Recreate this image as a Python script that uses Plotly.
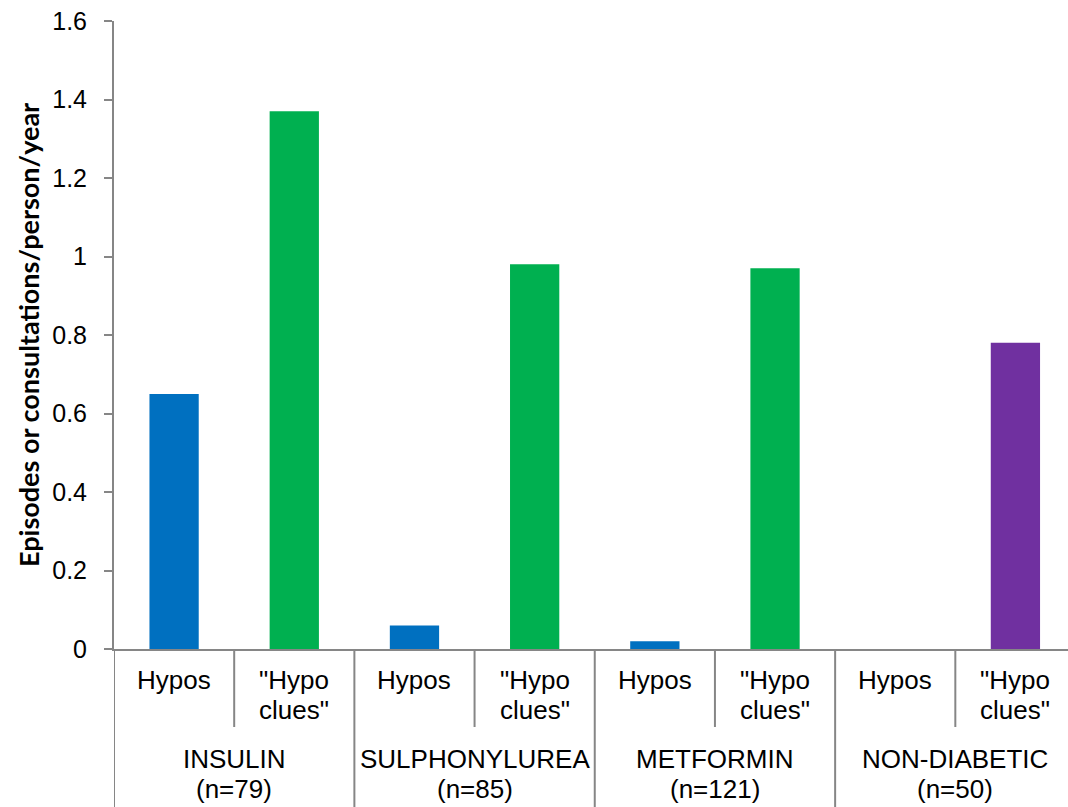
import plotly.graph_objects as go

# Data
group_names = ["INSULIN", "SULPHONYLUREA", "METFORMIN", "NON-DIABETIC"]
group_n = ["(n=79)", "(n=85)", "(n=121)", "(n=50)"]
subcat_lines = [["Hypos"], ["\"Hypo", "clues\""]]
hypos = [0.65, 0.06, 0.02, 0.0]
clues = [1.37, 0.98, 0.97, 0.78]
clue_colors = ["#00B050", "#00B050", "#00B050", "#7030A0"]
hypo_color = "#0070C0"
y_ticks = [0, 0.2, 0.4, 0.6, 0.8, 1, 1.2, 1.4, 1.6]
y_title = "Episodes or consultations/person/year"

W, H = 1068, 807
ml, mr, mt, mb = 114, 0, 21, 158
plot_h = H - mt - mb
axis_col = "#868686"

xs, ys, cols = [], [], []
for g in range(len(group_names)):
    xs += [2 * g, 2 * g + 1]
    ys += [hypos[g], clues[g]]
    cols += [hypo_color, clue_colors[g]]

fig = go.Figure(go.Bar(x=xs, y=ys, marker=dict(color=cols, line=dict(width=0)), width=0.41))

def py(pixel_y):
    return (H - mb - pixel_y) / plot_h

shapes = []
annotations = []
for g in range(len(group_names)):
    shapes.append(dict(type="line", xref="x", yref="paper", x0=2 * g + 0.5, x1=2 * g + 0.5,
                       y0=0, y1=py(727), line=dict(color=axis_col, width=2)))
for k in range(len(group_names) + 1):
    shapes.append(dict(type="line", xref="x", yref="paper", x0=2 * k - 0.5, x1=2 * k - 0.5,
                       y0=0, y1=py(H + 2), line=dict(color=axis_col, width=2)))

font_lbl = dict(family="Liberation Sans, Arial", size=26, color="#000000")
sub_line_y = [680, 710]
grp_line_y = [759, 789]
for g in range(len(group_names)):
    for s in range(2):
        for li, txt in enumerate(subcat_lines[s]):
            annotations.append(dict(xref="x", yref="paper", x=2 * g + s, y=py(sub_line_y[li]),
                                    yanchor="middle", text=txt, showarrow=False, font=font_lbl))
    for li, txt in enumerate([group_names[g], group_n[g]]):
        annotations.append(dict(xref="x", yref="paper", x=2 * g + 0.5, y=py(grp_line_y[li]),
                                yanchor="middle", text=txt, showarrow=False, font=font_lbl))

annotations.append(dict(xref="paper", yref="paper", x=(28 - ml) / (W - ml - mr), y=py(335),
                        text="<b>" + y_title + "</b>", textangle=-90, showarrow=False,
                        xanchor="center", yanchor="middle",
                        font=dict(family="Lato", size=27, color="#000000")))

fig.update_layout(
    width=W, height=H,
    margin=dict(l=ml, r=mr, t=mt, b=mb),
    plot_bgcolor="white", paper_bgcolor="white",
    showlegend=False,
    shapes=shapes, annotations=annotations,
    xaxis=dict(range=[-0.5, 7.5 - 7.5 / 120.1], showticklabels=False, showgrid=False,
               zeroline=False, showline=True, linecolor=axis_col, linewidth=2, ticks=""),
    yaxis=dict(range=[0, 1.6], tickvals=y_ticks, ticktext=[f"{v:g}" for v in y_ticks],
               showgrid=False, zeroline=False, showline=True, linecolor=axis_col, linewidth=2,
               ticks="outside", ticklen=8, tickcolor=axis_col, tickwidth=2,
               ticklabelstandoff=12,
               tickfont=dict(family="Liberation Sans, Arial", size=25, color="#000000")),
)

fig.write_html("out.html")
